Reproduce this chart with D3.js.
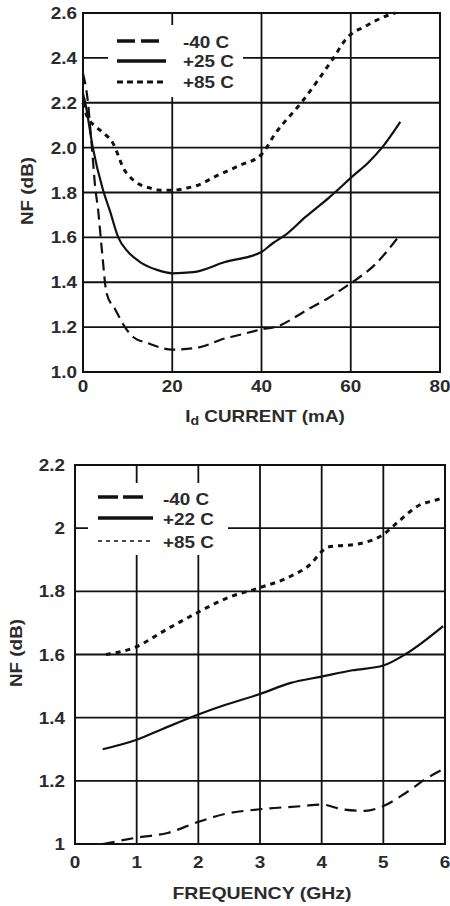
<!DOCTYPE html>
<html><head><meta charset="utf-8">
<script src="https://cdn.jsdelivr.net/npm/d3@7"></script>
<style>
html,body{margin:0;padding:0;background:#fff;}
svg{display:block;font-family:"Liberation Sans",Arial,sans-serif;font-weight:bold;}
</style></head>
<body>
<svg id="c" width="450" height="906"></svg>
<script>
// ---------- DATA ----------
const topXTicks = [0, 20, 40, 60, 80];
const topYTicks = [1.0, 1.2, 1.4, 1.6, 1.8, 2.0, 2.2, 2.4, 2.6];
const topYLabels = ["1.0","1.2","1.4","1.6","1.8","2.0","2.2","2.4","2.6"];
const topSeriesNames = ["-40 C", "+25 C", "+85 C"];
const topM40 = [[0,2.33],[1,2.22],[2,2.0],[2.7,1.83],[3.4,1.72],[4.2,1.55],[5.3,1.35],[7.2,1.28],[9.4,1.2],[11.3,1.155],[14.3,1.13],[20,1.10],[26,1.11],[31.8,1.15],[35,1.165],[40,1.19],[43,1.2],[50.5,1.28],[55,1.33],[59.6,1.39],[65.5,1.48],[70.6,1.60]];
const topP25 = [[0,2.24],[0.5,2.2],[2.2,2.0],[4.5,1.81],[6,1.72],[7.9,1.6],[9.9,1.54],[12.8,1.49],[16.6,1.455],[20,1.44],[24.7,1.445],[31.8,1.49],[40,1.535],[42.6,1.575],[45.3,1.61],[49.8,1.69],[55,1.775],[57,1.81],[60,1.865],[64,1.935],[67,2.0],[71.1,2.115]];
const topP85 = [[0,2.2],[0.9,2.14],[3.1,2.09],[4.9,2.06],[6.7,2.02],[7.8,1.97],[9,1.91],[10.5,1.87],[12.3,1.84],[15,1.82],[17.7,1.81],[20.2,1.81],[23.3,1.82],[25.4,1.83],[30,1.875],[35,1.92],[40,1.97],[43,2.06],[49.3,2.21],[55.8,2.39],[59.2,2.49],[63.2,2.54],[68.4,2.59],[70,2.6]];

const botXTicks = [0, 1, 2, 3, 4, 5, 6];
const botYTicks = [1, 1.2, 1.4, 1.6, 1.8, 2, 2.2];
const botYLabels = ["1","1.2","1.4","1.6","1.8","2","2.2"];
const botSeriesNames = ["-40 C", "+22 C", "+85 C"];
const botM40 = [[0.45,1.0],[1,1.02],[1.5,1.035],[2,1.07],[2.43,1.095],[3,1.11],[3.68,1.12],[4,1.125],[4.33,1.11],[4.7,1.105],[5,1.12],[5.35,1.16],[5.72,1.21],[5.95,1.235]];
const botP22 = [[0.45,1.30],[1,1.33],[1.43,1.365],[2,1.41],[2.43,1.44],[3,1.475],[3.5,1.51],[4,1.53],[4.5,1.55],[5,1.565],[5.35,1.60],[5.97,1.69]];
const botP85 = [[0.5,1.6],[0.94,1.62],[1.49,1.68],[1.96,1.73],[2.48,1.78],[2.97,1.81],[3.52,1.85],[3.84,1.89],[3.97,1.92],[4.1,1.94],[4.59,1.95],[5,1.98],[5.24,2.02],[5.56,2.07],[5.87,2.09],[5.95,2.095]];

// ---------- DRAW ----------
const svg = d3.select("#c");
const TXT = "#2b2b2b";

function label(g, x, y, str, anchor, size, rot) {
  const t = g.append("text")
    .attr("transform", `translate(${x},${y})` + (rot ? ` rotate(${rot})` : "") + " scale(1.18,1)")
    .attr("text-anchor", anchor).attr("font-size", size).attr("fill", TXT);
  return t.text(str);
}

function chart(cfg) {
  const x = d3.scaleLinear().domain(cfg.xd).range([cfg.l, cfg.r]);
  const y = d3.scaleLinear().domain(cfg.yd).range([cfg.b, cfg.t]);
  const g = svg.append("g");
  g.selectAll(".hg").data(cfg.yTicks.slice(1, -1)).enter().append("line")
    .attr("x1", cfg.l).attr("x2", cfg.r).attr("y1", d => y(d)).attr("y2", d => y(d))
    .attr("stroke", "#111").attr("stroke-width", 1.8);
  g.selectAll(".vg").data(cfg.xTicks.slice(1, -1)).enter().append("line")
    .attr("y1", cfg.t).attr("y2", cfg.b).attr("x1", d => x(d)).attr("x2", d => x(d))
    .attr("stroke", "#111").attr("stroke-width", 1.8);
  g.append("rect").attr("x", cfg.leg.x0).attr("y", cfg.leg.y0)
    .attr("width", cfg.leg.x1 - cfg.leg.x0).attr("height", cfg.leg.y1 - cfg.leg.y0).attr("fill", "#fff");
  g.append("rect").attr("x", cfg.l).attr("y", cfg.t).attr("width", cfg.r - cfg.l).attr("height", cfg.b - cfg.t)
    .attr("fill", "none").attr("stroke", "#111").attr("stroke-width", 2);
  cfg.yTicks.forEach((v, i) => label(g, cfg.yLabX, y(v) + 6, cfg.yLabels[i], "end", 16));
  cfg.xTicks.forEach(v => label(g, x(v), cfg.xLabY, String(v), "middle", 16));
  const line = d3.line().x(d => x(d[0])).y(d => y(d[1])).curve(d3.curveMonotoneX);
  cfg.series.forEach(s => {
    g.append("path").attr("d", line(s.data)).attr("fill", "none")
      .attr("stroke", "#111").attr("stroke-width", s.w)
      .attr("stroke-dasharray", s.dash || null);
  });
  cfg.series.forEach((s, i) => {
    const ly = cfg.leg.lineY[i];
    g.append("line").attr("x1", cfg.leg.lx0).attr("x2", cfg.leg.lx1[i]).attr("y1", ly).attr("y2", ly)
      .attr("stroke", "#111").attr("stroke-width", s.lw).attr("stroke-dasharray", s.ldash || null);
    label(g, cfg.leg.tx, cfg.leg.textY[i], cfg.names[i], "start", 16);
  });
  return {x, y, g};
}

const chartTop = chart({
  xd: [0, 80], yd: [1.0, 2.6], l: 83, r: 440, t: 13, b: 372,
  xTicks: topXTicks, yTicks: topYTicks, yLabels: topYLabels,
  yLabX: 77, xLabY: 392, names: topSeriesNames,
  leg: {x0: 108, x1: 243, y0: 25, y1: 97, lx0: 117, lx1: [164, 166, 164], lineY: [41, 61, 82], tx: 183, textY: [48, 67, 88]},
  series: [
    {data: topM40, w: 2.2, dash: "11,6", lw: 3.5, ldash: "18,6"},
    {data: topP25, w: 2.2, lw: 3.5},
    {data: topP85, w: 3, dash: "5,5", lw: 3, ldash: "6,4"}
  ]
});
const tt = chartTop.g.append("text").attr("transform", "translate(265,422) scale(1.18,1)")
  .attr("text-anchor", "middle").attr("font-size", 16).attr("fill", TXT);
tt.append("tspan").text("I");
tt.append("tspan").attr("font-size", 12).attr("dy", 3).text("d");
tt.append("tspan").attr("dy", -3).text(" CURRENT (mA)");
label(chartTop.g, 33, 191, "NF (dB)", "middle", 16, -90);

const chartBot = chart({
  xd: [0, 6], yd: [1, 2.2], l: 75, r: 445, t: 465, b: 844,
  xTicks: botXTicks, yTicks: botYTicks, yLabels: botYLabels,
  yLabX: 65, xLabY: 868, names: botSeriesNames,
  leg: {x0: 88, x1: 228, y0: 483, y1: 555, lx0: 98, lx1: [147, 153, 150], lineY: [497, 518, 541], tx: 163, textY: [505, 525, 548]},
  series: [
    {data: botM40, w: 2.2, dash: "12,7", lw: 3.5, ldash: "20,5"},
    {data: botP22, w: 2.2, lw: 3.5},
    {data: botP85, w: 3, dash: "5,5", lw: 1.5, ldash: "4,4"}
  ]
});
label(chartBot.g, 262, 899, "FREQUENCY (GHz)", "middle", 16.5);
label(chartBot.g, 22, 653, "NF (dB)", "middle", 16, -90);
</script>
</body></html>
